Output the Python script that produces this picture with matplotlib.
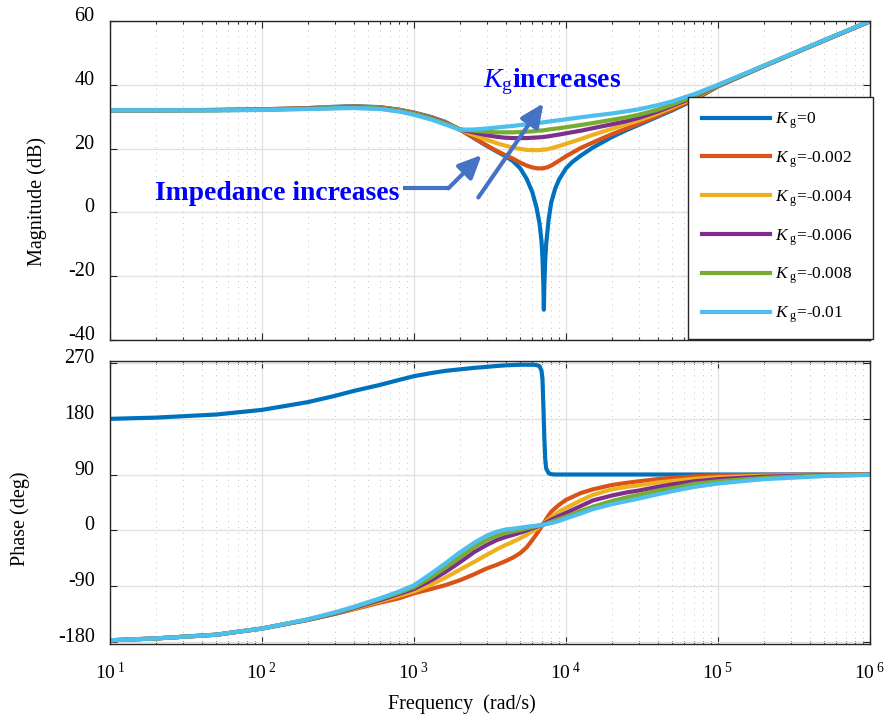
import matplotlib
matplotlib.use('Agg')
import matplotlib.pyplot as plt
from matplotlib.ticker import LogLocator, NullLocator

plt.rcParams['font.family'] = ['Liberation Serif', 'DejaVu Serif']
plt.rcParams['mathtext.fontset'] = 'custom'
plt.rcParams['mathtext.rm'] = 'Liberation Serif'
plt.rcParams['mathtext.it'] = 'Liberation Serif:italic'
plt.rcParams['mathtext.bf'] = 'Liberation Serif:bold'

# frequency points (rad/s)
freq = [10, 20, 50, 100, 200, 300, 400, 600, 800, 1000, 1300, 1600, 2000, 2500,
        3000, 3500, 4000, 4500, 5000, 5500, 6000, 6500, 7000, 7500, 8000, 9000,
        10000, 12500, 15000, 20000, 25000, 30000, 40000, 50000, 70000, 1e5, 2e5,
        5e5, 1e6]
# Kg = 0 has a sharp notch, so it gets its own denser grid
freq_kg0 = [10, 20, 50, 100, 200, 300, 400, 600, 800, 1000, 1300, 1600, 2000,
            2500, 3000, 3500, 4000, 4500, 5000, 5500, 6000, 6400, 6700, 6900,
            7000, 7100, 7150, 7200, 7300, 7400, 7700, 8000, 8500, 9000, 10000,
            11000, 12500, 15000, 20000, 25000, 30000, 40000, 50000, 70000, 1e5,
            2e5, 5e5, 1e6]

kg_labels = ['0', '-0.002', '-0.004', '-0.006', '-0.008', '-0.01']
colors = ['#0072BD', '#D95319', '#EDB120', '#7E2F8E', '#77AC30', '#4DBEEE']

# magnitude (dB)
mag_kg0 = [32.0, 32.0, 32.1, 32.3, 32.7, 33.1, 33.3, 33.0, 32.2, 31.3, 29.9, 28.4,
           26.0, 23.2, 20.9, 19.1, 17.6, 16.0, 13.8, 10.6, 6.4, 1.5, -3.5, -9.0,
           -14.0, -23.0, -30.5, -23.0, -15.0, -10.0, -2.0, 3.2, 7.5, 10.3, 13.8,
           15.8, 17.8, 20.3, 23.6, 25.8, 27.4, 30.0, 32.0, 35.3, 39.5, 45.8, 53.9,
           59.9]
mag_002 = [32.0, 32.0, 32.1, 32.3, 32.7, 33.0, 33.2, 32.9, 32.1, 31.2, 29.8, 28.3,
           26.0, 23.3, 21.0, 19.3, 17.9, 16.8, 15.6, 14.7, 14.1, 13.8, 13.8, 14.1,
           14.7, 16.2, 17.6, 20.2, 21.9, 24.5, 26.3, 27.8, 30.3, 32.3, 35.5, 39.6,
           45.9, 53.9, 59.9]
mag_004 = [32.0, 32.0, 32.1, 32.3, 32.6, 32.9, 33.1, 32.8, 32.0, 31.1, 29.7, 28.2,
           26.0, 24.2, 22.8, 21.7, 20.9, 20.3, 19.9, 19.6, 19.5, 19.5, 19.6, 19.8,
           20.1, 20.8, 21.5, 23.0, 24.3, 26.2, 27.6, 28.8, 31.0, 32.9, 35.9, 39.7,
           45.9, 53.9, 59.9]
mag_006 = [32.0, 32.0, 32.1, 32.2, 32.6, 32.8, 33.0, 32.7, 31.9, 31.0, 29.6, 28.1,
           26.0, 25.0, 24.2, 23.7, 23.4, 23.3, 23.3, 23.3, 23.4, 23.5, 23.6, 23.8,
           24.0, 24.4, 24.8, 25.6, 26.4, 27.6, 28.6, 29.6, 31.6, 33.4, 36.2, 39.8,
           45.9, 53.9, 59.9]
mag_008 = [32.0, 32.0, 32.0, 32.2, 32.5, 32.7, 32.9, 32.6, 31.8, 30.9, 29.4, 27.9,
           26.0, 25.6, 25.3, 25.1, 25.1, 25.1, 25.2, 25.3, 25.4, 25.6, 25.7, 25.9,
           26.1, 26.4, 26.7, 27.4, 28.0, 29.0, 29.8, 30.6, 32.2, 33.8, 36.5, 39.9,
           45.9, 54.0, 60.0]
mag_010 = [32.0, 32.0, 32.0, 32.1, 32.4, 32.6, 32.7, 32.4, 31.6, 30.6, 29.1, 27.6,
           25.9, 26.0, 26.3, 26.6, 26.9, 27.1, 27.4, 27.6, 27.8, 28.0, 28.2, 28.4,
           28.6, 28.9, 29.2, 29.8, 30.3, 31.0, 31.7, 32.3, 33.6, 34.8, 37.1, 40.0,
           46.0, 54.0, 60.0]

# phase (deg)
phase_kg0 = [180, 182, 187, 194.5, 207, 217, 225, 235, 243, 249, 254, 257.5, 260,
             262.5, 264, 265.5, 266.5, 267, 267.5, 267.5, 267.5, 267, 265, 258, 245,
             200, 175, 150, 115, 100, 92, 90.5, 90, 90, 90, 90, 90, 90, 90, 90, 90,
             90, 90, 90, 90, 90, 90, 90]
phase_002 = [-178, -175, -169, -159, -145, -135.5, -128, -117, -110, -102, -95, -89,
             -81, -71, -62, -56, -50, -44, -37, -28, -16, -4, 8, 20, 30, 41, 49, 60,
             66, 73, 76.5, 79, 82.5, 84.5, 87, 88.5, 89.5, 89.8, 90]
phase_004 = [-178, -175, -169, -159, -145, -135, -127, -115, -106, -99, -88, -77,
             -64, -51, -40, -31, -24, -18.5, -13, -7.5, -2, 3.5, 9, 15, 21, 30, 36,
             48, 57, 66, 70, 72.5, 77, 79.5, 83, 85.5, 88, 89.5, 89.8]
phase_006 = [-178, -175, -169, -159, -145, -135, -126, -113, -103, -95, -81, -68,
             -52, -35, -24, -16, -11, -7.5, -4, -0.5, 3, 6, 9, 13, 17, 23, 28, 39,
             48, 56, 61, 64, 70, 74, 79, 82.5, 86.5, 89, 89.7]
phase_008 = [-178, -175, -169, -159, -144.5, -134, -125, -111, -101, -92, -76, -61,
             -44, -27, -16, -9, -4.5, -2, 0.5, 3, 5, 7, 8.5, 11, 13.5, 18, 22, 31,
             38, 47, 53, 57, 64, 68, 75, 79, 84.5, 88.3, 89.6]
phase_010 = [-178, -175, -169, -159, -144, -133, -124, -110, -99, -89, -70, -54,
             -36, -20, -9, -2.5, 1, 2.5, 4, 5.5, 6.5, 7.5, 8.5, 10, 11.5, 15, 19, 27,
             34, 42, 47, 51, 58, 63, 70, 75.5, 82.5, 87.5, 89.5]

mag_ticks = [-40, -20, 0, 20, 40, 60]
phase_ticks = [-180, -90, 0, 90, 180, 270]
decades = [1, 2, 3, 4, 5, 6]

freqs = [freq_kg0, freq, freq, freq, freq, freq]
mags = [mag_kg0, mag_002, mag_004, mag_006, mag_008, mag_010]
phases = [phase_kg0, phase_002, phase_004, phase_006, phase_008, phase_010]

fig = plt.figure(figsize=(8.87, 7.17), dpi=100)
ax_mag = fig.add_axes([110 / 887, 1 - 340 / 717, 760 / 887, 319 / 717])
ax_ph = fig.add_axes([110 / 887, 1 - 644 / 717, 760 / 887, 283.3 / 717])

for f, m, p, c, k in zip(freqs, mags, phases, colors, kg_labels):
    ax_mag.plot(f, m, color=c, lw=3, label=r'$K_{\ \mathrm{g}}$=' + k)
    ax_ph.plot(f, p, color=c, lw=3)

for ax in (ax_mag, ax_ph):
    ax.set_xscale('log')
    ax.set_xlim(10, 1e6)
    ax.xaxis.set_major_locator(LogLocator(base=10, numticks=10))
    ax.xaxis.set_minor_locator(LogLocator(base=10, subs=range(2, 10), numticks=20))
    ax.yaxis.set_minor_locator(NullLocator())
    ax.grid(True, which='major', color='#e2e2e2', lw=1.0, ls='-')
    ax.grid(True, which='minor', axis='x', color='#c2c2c2', lw=0.7, ls=(0, (1, 5)))
    ax.set_axisbelow(True)
    ax.tick_params(which='both', direction='in', top=True, right=True,
                   color='#262626', width=0.8)
    ax.tick_params(which='major', length=5)
    ax.tick_params(which='minor', length=2.5)
    ax.tick_params(axis='y', pad=11, labelsize=14.5)
    for s in ax.spines.values():
        s.set_color('#262626')
        s.set_linewidth(1.0)

ax_mag.set_ylim(-40, 60)
ax_mag.set_yticks(mag_ticks, [str(t) for t in mag_ticks], va='baseline')
ax_mag.tick_params(labelbottom=False)

ax_ph.set_ylim(-184, 274)
ax_ph.set_yticks(phase_ticks, [str(t) for t in phase_ticks], va='baseline')
ax_ph.set_xticks([10.0 ** d for d in decades],
                 [r'$\mathregular{10^{\ %d}}$' % d for d in decades])
ax_ph.tick_params(axis='x', pad=13, labelsize=14)

fig.text(37 / 887, 1 - 202 / 717, 'Magnitude (dB)', rotation=90, fontsize=14.5,
         ha='center', va='center')
fig.text(20 / 887, 1 - 519 / 717, 'Phase (deg)', rotation=90, fontsize=14.5,
         ha='center', va='center')
fig.text(462 / 887, 1 - 704 / 717, 'Frequency  (rad/s)', fontsize=14.5,
         ha='center', va='center')

leg = ax_mag.legend(loc='upper left', bbox_to_anchor=(0.761, -0.002, 0.243, 0.765),
                    mode='expand', borderaxespad=0, fontsize=12.5, handlelength=3.9,
                    handletextpad=0.3, labelspacing=1.05, borderpad=0.8, frameon=True,
                    fancybox=False, edgecolor='#262626', framealpha=1)
leg.get_frame().set_linewidth(1.0)

# annotations
arrow_c = '#4472C4'
ax_mag.text(19.8, 6.0, 'Impedance increases', color='#0000FF', fontsize=19.9,
            fontweight='bold', ha='left', va='center')
ax_mag.plot([847, 1683], [7.55, 7.55], color=arrow_c, lw=3, solid_capstyle='butt')
ax_mag.annotate('', xy=(2787, 18.0), xytext=(1683, 7.55),
                arrowprops=dict(arrowstyle='-|>,head_length=0.7,head_width=0.32',
                                color=arrow_c, lw=3, mutation_scale=20,
                                shrinkA=0, shrinkB=0))
ax_mag.annotate('', xy=(7100, 34.2), xytext=(2650, 4.7),
                arrowprops=dict(arrowstyle='-|>,head_length=0.7,head_width=0.32',
                                color=arrow_c, lw=3, mutation_scale=20,
                                shrinkA=0, shrinkB=0))
ax_mag.text(2845, 40.9, r'$K_{\mathrm{g}}\mathbf{increases}$', color='#0000FF',
            fontsize=20, ha='left', va='center')

fig.savefig('out.png', dpi=100)
